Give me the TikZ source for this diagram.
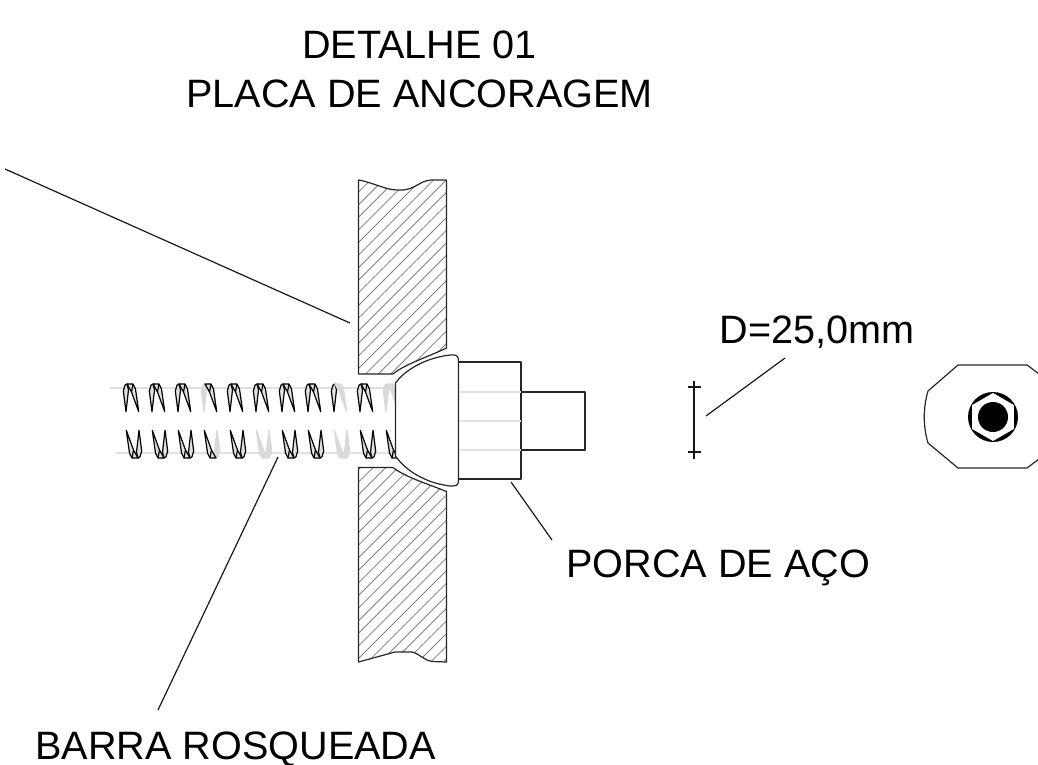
\documentclass[tikz,border=0pt]{standalone}
\usepackage{fontspec}
\setmainfont{Liberation Sans}
\usetikzlibrary{arrows,positioning,calc}
\tikzset{
    every picture/.style={line width=0.9pt},
    outline/.style={draw=black!85,line width=1.2pt,line join=round},
    hatchline/.style={draw=black!50,line width=0.8pt},
    faintline/.style={draw=black!12,line width=1.2pt},
    leader/.style={draw=black!90,line width=1.2pt},
    label/.style={font=\fontsize{39.6}{46}\selectfont,inner sep=0pt,anchor=base west},
    bladeblack/.style={draw=black,fill=black!12,line width=1.2pt,line join=round},
    bladegray/.style={draw=black!15,fill=black!15,line width=1.2pt,line join=round}
}
\newcommand{\threadtooth}[5]{%
    \begin{scope}[shift={(#1,#2)},rotate=#3]
        \filldraw[#4] (-4,27.7) -- (-6.7,7) -- (-5,1.2) -- (-3,0) -- (-1.5,6) -- cycle;
        \filldraw[#5] (-3,0) -- (3,0) -- (5.5,5) -- (8.7,27.7) -- (1.5,8) -- cycle;
        \draw[#5] (1.5,8) -- (3,0);
    \end{scope}}

\begin{document}
\begin{tikzpicture}[x=1pt,y=-1pt]
    \useasboundingbox (0,0) rectangle (1038,765);

    % Titles
    \node[label,anchor=base] (title1) at (419.5,58.5) {DETALHE 01};
    \node[label,anchor=base] (title2) at (419.5,107.3) {PLACA DE ANCORAGEM};

    % Hatching of the plate
    \begin{scope}
        \clip (358.5,180) .. controls (375,183) and (385,190) .. (398,190)
            .. controls (415,191) and (418,181) .. (431,180) -- (446.5,180)
            -- (446.5,348) .. controls (428,357) and (405,364) .. (393,374) -- (358.5,374) -- cycle;
        \foreach \k in {0,...,24}
            \draw[hatchline] (340,{198+12.6*\k}) -- (470,{68+12.6*\k});
    \end{scope}
    \begin{scope}
        \clip (358.5,662) -- (395,652) -- (412,652) .. controls (420,654) and (425,661) .. (432,661.5)
            -- (446.5,662) -- (446.5,491.5) .. controls (428,484) and (405,477) .. (393,467.5) -- (358.5,467.5) -- cycle;
        \foreach \k in {0,...,30}
            \draw[hatchline] (340,{488+12.6*\k}) -- (470,{358+12.6*\k});
    \end{scope}

    % Plate outline
    \draw[outline] (358.5,374) -- (358.5,180) .. controls (375,183) and (385,190) .. (398,190)
        .. controls (415,191) and (418,181) .. (431,180) -- (446.5,180) -- (446.5,348)
        .. controls (428,357) and (405,364) .. (393,374) -- cycle;
    \draw[outline] (358.5,467.5) -- (358.5,662) -- (395,652) -- (412,652)
        .. controls (420,654) and (425,661) .. (432,661.5) -- (446.5,662) -- (446.5,491.5)
        .. controls (428,484) and (405,477) .. (393,467.5) -- cycle;

    % Threaded bar
    \draw[faintline] (110,388) -- (395,388);
    \draw[faintline] (116,453) -- (395,453);
    \foreach \x/\cl/\cr in {130/bladeblack/bladeblack,156/bladeblack/bladeblack,182/bladeblack/bladeblack,
            208/bladegray/bladeblack,234/bladeblack/bladeblack,260/bladeblack/bladeblack,
            286/bladeblack/bladeblack,312/bladeblack/bladeblack,338/bladeblack/bladegray,
            364/bladeblack/bladeblack,390/bladegray/bladegray}
        \threadtooth{\x}{384}{0}{\cl}{\cr};
    % second row is turned, so the wide blade comes first on the left
    \foreach \x/\cl/\cr in {135/bladeblack/bladeblack,161/bladeblack/bladeblack,187/bladeblack/bladeblack,
            213/bladegray/bladeblack,239/bladeblack/bladeblack,265/bladegray/bladegray,
            291/bladeblack/bladeblack,317/bladeblack/bladeblack,343/bladegray/bladegray,
            369/bladeblack/bladeblack,395/bladegray/bladeblack}
        \threadtooth{\x}{458}{180}{\cl}{\cr};

    % Dome washer
    \draw[outline,fill=white] (395.5,383) .. controls (405,370) and (425,358) .. (450,355)
        .. controls (455,354.5) and (458.5,355) .. (458.5,360) -- (458.5,481)
        .. controls (458.5,486) and (455,486) .. (450,486)
        .. controls (425,483) and (405,470) .. (395.5,456) -- cycle;

    % Nut and bar end
    \draw[outline] (458.5,362) -- (521,362) -- (521,479) -- (458.5,479);
    \draw[faintline] (459,392) -- (521,392);
    \draw[faintline] (459,421) -- (521,421);
    \draw[faintline] (459,450) -- (521,450);
    \draw[outline] (521,392) -- (585,392) -- (585,450) -- (521,450);

    % Diameter mark
    \coordinate (dimtop) at (694,381);
    \coordinate (dimbot) at (694,459);
    \draw[leader] (dimtop) -- (dimbot);
    \draw[leader] (688,387) -- (701,387);
    \draw[leader] (688,452) -- (701,452);

    % End view
    \draw[outline] (1039,374) -- (1027,365) -- (958,365) -- (928,391)
        .. controls (923,408) and (923,426) .. (928,443)
        -- (958,468) -- (1027,468) -- (1039,459);
    \fill[black] (993,417) circle (25);
    \fill[white] (993,393) -- (1013.8,405) -- (1013.8,429) -- (993,441) -- (972.2,429) -- (972.2,405) -- cycle;
    \fill[black] (993,417) circle (15);

    % Labels
    \node[label] (diam) at (719,343) {D=25,0mm};
    \node[label] (nut) at (566,577) {PORCA DE AÇO};
    \node[label] (bar) at (35,759.5) {BARRA ROSQUEADA};

    % Leaders
    \coordinate (plateA) at (5,169);
    \coordinate (plateB) at (350,323);
    \coordinate (diamA) at (706,416);
    \coordinate (diamB) at (785,358);
    \coordinate (nutA) at (511,482);
    \coordinate (nutB) at (552,540);
    \coordinate (barA) at (278,457);
    \coordinate (barB) at (158,710);
    \draw[leader] (plateA) -- (plateB);
    \draw[leader] (diamA) -- (diamB);
    \draw[leader] (nutA) -- (nutB);
    \draw[leader] (barA) -- (barB);
\end{tikzpicture}
\end{document}
